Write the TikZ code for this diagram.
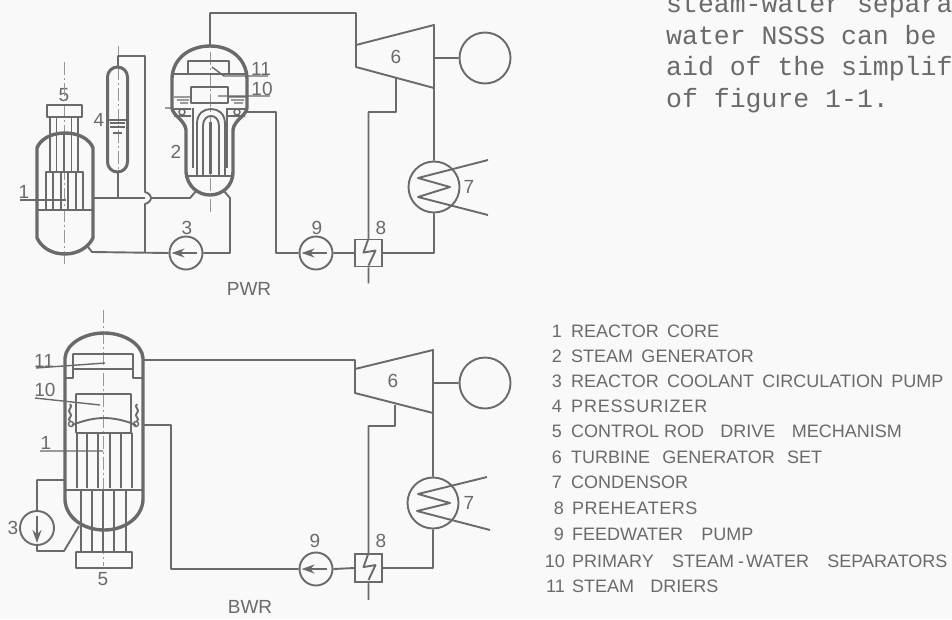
\documentclass[tikz,border=0pt]{standalone}
\usepackage{fontspec}
\setmainfont{Liberation Sans}
\newfontfamily\typed{Liberation Mono}
\usetikzlibrary{arrows.meta}
\definecolor{ink}{HTML}{6A6A6A}
\definecolor{paper}{HTML}{F9F9F9}
\newcommand{\gp}{\hspace{0.46em}}
\tikzset{pipe/.style={draw=ink,line width=1.9pt,line join=round},
wall/.style={draw=ink,line width=3.4pt,line join=round},
fine/.style={draw=ink,line width=1.4pt},
axis/.style={draw=ink!70,line width=1pt,dash pattern=on 13pt off 3pt on 2pt off 3pt},
pump/.style={circle,draw=ink,line width=1.9pt,minimum size=33pt,inner sep=0pt},
genr/.style={circle,draw=ink,line width=1.9pt,minimum size=51pt,inner sep=0pt},
prehtr/.style={rectangle,draw=ink,line width=1.9pt,minimum width=27pt,minimum height=27pt,inner sep=0pt},
flow/.style={pipe,-{Stealth[length=13pt,width=9pt]},shorten >=3pt,shorten <=6pt},
num/.style={text=ink,font=\fontsize{19}{19}\selectfont,inner sep=0pt},
lgnum/.style={text=ink,font=\fontsize{18}{18}\selectfont,inner sep=0pt,anchor=base east},
lgtxt/.style={text=ink,font=\fontsize{18}{18}\selectfont,inner sep=0pt,anchor=base west},
para/.style={text=ink,font=\typed\fontsize{26.5}{26.5}\selectfont,inner sep=0pt,anchor=base west}}

\begin{document}
\begin{tikzpicture}[x=1pt,y=-1pt]
\path[fill=paper,use as bounding box] (0,0) rectangle (952,619);
\clip (0,0) rectangle (952,619);

\node[para] (t1) at (666,12) {steam-water separa};
\node[para] (t2) at (666,44) {water NSSS can be};
\node[para] (t3) at (666,75) {aid of the simplif};
\node[para] (t4) at (666,107) {of figure 1-1.};

\node[num] (a1) at (24,192) {1};
\node[num] (a2) at (176,152) {2};
\node[num] (a3) at (187,228) {3};
\node[num] (a4) at (99,120) {4};
\node[num] (a5) at (64,95) {5};
\node[num] (a6) at (396,57) {6};
\node[num] (a7) at (469,187) {7};
\node[num] (a8) at (381,228) {8};
\node[num] (a9) at (317,228) {9};
\node[num] (a10) at (262,89) {10};
\node[num] (a11) at (261,69) {11};
\node[num] (apwr) at (249,289) {PWR};

\node[pump] (p3) at (186,253) {};
\node[pump] (p9) at (316,253) {};
\node[genr] (g1) at (485,58) {};
\node[genr] (c1) at (434,187) {};
\node[prehtr] (h1) at (368.5,253) {};
\coordinate (st1) at (210,46);
\coordinate (st1a) at (210,13);
\coordinate (tl1) at (356,45);
\coordinate (tl2) at (356,67);
\coordinate (tr1) at (434,25);
\coordinate (tr2) at (434,88);
\coordinate (ex1) at (396,78);
\coordinate (ex1a) at (396,112);
\coordinate (sg1) at (246,112);
\coordinate (fd1) at (276,253);
\coordinate (hot1) at (93,198);
\coordinate (hot2) at (190,198);
\coordinate (hot3) at (197,190);
\coordinate (cold1) at (88,247);
\coordinate (cold2) at (92,252);
\coordinate (cold3) at (230,253);
\coordinate (cold4) at (230,198);
\coordinate (cold5) at (224,191);
\coordinate (pz1) at (118,66);
\coordinate (pz2) at (118,56);
\coordinate (pz3) at (145,56);
\coordinate (pz4) at (118,172);
\coordinate (pz5) at (118,198);
\coordinate (pz6) at (145,192);
\coordinate (pz7) at (145,204);
\coordinate (pz8) at (145,253);

\draw[axis] (64,62) -- (64,266);
\draw[axis] (118,46) -- (118,198);
\draw[axis] (210,52) -- (210,213);
\draw[wall] (37,238) -- (37,148) .. controls (40,140) and (50,133) .. (65,133) .. controls (80,133) and (90,140) .. (93,148) -- (93,238) .. controls (88,248) and (77,254) .. (65,254) .. controls (52,254) and (42,248) .. (37,238) -- cycle;
\draw[pipe] (37,210) -- (93,210)
(46,210) -- (46,172) -- (83,172) -- (83,210)
(53,172) -- (53,210) (61,172) -- (61,210) (68,172) -- (68,210) (76,172) -- (76,210)
(50,172) -- (50,136) (56.5,172) -- (56.5,134) (64,172) -- (64,134) (71.5,172) -- (71.5,134) (78,172) -- (78,136)
(50,134) -- (50,117) (56.5,134) -- (56.5,117) (71.5,134) -- (71.5,117) (78,134) -- (78,117)
(47,105) rectangle (82,117);
\draw[fine] (20,200) -- (66,200);

\draw[wall,line width=3pt,rounded corners=10pt] (107.5,172) rectangle (127.5,67);
\draw[fine] (108,120) -- (127,120) (110,123) -- (125,123) (110,127) -- (125,127) (113,133) -- (122,133);

\draw[wall] (172,108) -- (172,78) .. controls (173,58) and (190,46) .. (210,46) .. controls (230,46) and (246,58) .. (247,78) -- (247,108) .. controls (246,116) and (234,120) .. (233,130) -- (233,172) .. controls (233,186) and (222,195) .. (210,195) .. controls (198,195) and (187,186) .. (186,172) -- (186,130) .. controls (185,120) and (173,116) .. (172,108) -- cycle;
\draw[pipe] (172,74) -- (247,74)
(188,74) -- (188,61) -- (229,61) -- (229,74)
(191,87) rectangle (228,103)
(186,176) -- (233,176)
(197,176) -- (197,124) .. controls (197,113) and (204,109) .. (211,109) .. controls (218,109) and (225,113) .. (225,124) -- (225,176)
(203,176) -- (203,126) .. controls (203,119) and (207,116) .. (211,116) .. controls (215,116) and (219,119) .. (219,126) -- (219,176)
(173,109) -- (191,109) (228,109) -- (246,109)
(174,116) -- (191,116) (228,116) -- (245,116);
\draw[wall,line width=2.6pt] (193,108) -- (193,168) (227,108) -- (227,168);
\draw[wall,line width=3pt] (210,122) -- (210,174);
\draw[fine] (174,97) -- (191,97) (228,97) -- (246,97)
(177,100) -- (189,100) (231,100) -- (244,100)
(180,103) -- (188,103) (234,103) -- (243,103)
(165,108) -- (172,108)
(212,67) -- (224,76) -- (268,76)
(218,96) -- (270,96);
\draw[fine] (182,112) circle (3pt) (237,112) circle (3pt);

\draw[pipe] (st1) -- (st1a) -- (356,13) -- (tl1)
(tl1) -- (tr1) -- (tr2) -- (tl2) -- cycle
(tr1 |- g1) -- (g1.west)
(tr2) -- (c1.north)
(c1.south) |- (h1.east)
(h1.west) -- (p9.east)
(p9.west) -- (fd1) -- (sg1 -| fd1) -- (sg1)
(ex1) -- (ex1a) -- (h1.north |- ex1a) -- (h1.north)
(h1.south) -- ++(0,16)
(hot1) -- (pz3 |- hot1)
(150,198) -- (hot2) -- (hot3)
(cold1) -- (cold2) -- (p3.west)
(p3.east) -- (cold3) -- (cold4) -- (cold5)
(pz1) -- (pz2) -- (pz3) -- (pz6) .. controls (149,193) and (151,196) .. (151,198) .. controls (151,200) and (149,203) .. (pz7) -- (pz8)
(pz4) -- (pz5)
(h1.north) -- ++(-5,14) -- ++(12,-2) -- ++(-7,15);
\draw[pipe] (488,160) -- (418,178) -- (450,187) -- (418,197) -- (488,215);
\draw[flow] (p3.east) -- (p3.west);
\draw[flow] (p9.east) -- (p9.west);

\node[num] (b1) at (46,443) {1};
\node[num] (b3) at (13,528) {3};
\node[num] (b5) at (103,579) {5};
\node[num] (b6) at (393,381) {6};
\node[num] (b7) at (469,503) {7};
\node[num] (b8) at (381,541) {8};
\node[num] (b9) at (315,541) {9};
\node[num] (b10) at (45,390) {10};
\node[num] (b11) at (44,361) {11};
\node[num] (bbwr) at (250,607) {BWR};

\node[pump,minimum size=34pt] (p3b) at (37,528) {};
\node[pump] (p9b) at (316,569) {};
\node[genr] (g2) at (485,383) {};
\node[genr] (c2) at (433,503) {};
\node[prehtr,minimum height=28pt] (h2) at (368.5,568) {};
\coordinate (st2) at (143,360);
\coordinate (tm1) at (355,360);
\coordinate (tm2) at (355,369);
\coordinate (tm3) at (355,393);
\coordinate (tm4) at (433,350);
\coordinate (tm5) at (433,413);
\coordinate (ex2) at (395,405);
\coordinate (ex2a) at (395,426);
\coordinate (sp1) at (143,425);
\coordinate (sp2) at (171,425);
\coordinate (rec1) at (64,480);
\coordinate (rec2) at (37,480);
\coordinate (rec3) at (37,551);
\coordinate (rec4) at (64,551);
\coordinate (rec5) at (79,526);

\draw[axis] (103,310) -- (103,566);
\draw[wall] (65,500) -- (65,358) .. controls (66,344) and (84,333) .. (104,333) .. controls (124,333) and (142,344) .. (143,358) -- (143,500) .. controls (142,518) and (124,530) .. (104,530) .. controls (84,530) and (66,518) .. (65,500) -- cycle;
\draw[pipe] (65,378) -- (73,378) -- (73,354) -- (133,354) -- (133,378) -- (143,378)
(73,369) -- (133,369)
(76,433) -- (76,394) -- (131,394) -- (131,433)
(72,425) .. controls (85,420) and (95,418) .. (104,418) .. controls (113,418) and (124,420) .. (136,425)
(76,433) -- (132,433)
(66,490) -- (142,490)
(77,433) -- (77,488) (87,433) -- (87,488) (98,433) -- (98,488) (110,433) -- (110,488) (121,433) -- (121,488) (132,433) -- (132,488)
(81,490) -- (81,552) (92,490) -- (92,552) (103,490) -- (103,552) (114,490) -- (114,552) (126,490) -- (126,552)
(76,552) rectangle (132,568);
\draw[fine] (36,368) -- (105,363) (35,398) -- (100,405) (40,451) -- (103,451);
\draw[pipe] (70,404) .. controls (74,407) and (66,410) .. (70,413) .. controls (74,416) and (66,419) .. (70,421)
(137,404) .. controls (133,407) and (141,410) .. (137,413) .. controls (133,416) and (141,419) .. (137,421);
\draw[fine] (71,424) circle (2.5pt) (136,424) circle (2.5pt);

\draw[pipe] (st2) -- (tm1) -- (tm2)
(tm2) -- (tm4) -- (tm5) -- (tm3) -- cycle
(tm4 |- g2) -- (g2.west)
(tm5) -- (c2.north)
(c2.south) |- (h2.east)
(h2.west) -- (p9b.east)
(p9b.west) -- (p9b.west -| sp2) -- (sp2) -- (sp1)
(ex2) -- (ex2a) -- (h2.north |- ex2a) -- (h2.north)
(h2.south) -- ++(0,17)
(rec1) -- (rec2) -- (p3b.north)
(p3b.south) -- (rec3) -- (rec4) -- (rec5)
(h2.north) -- ++(-5,14) -- ++(12,-2) -- ++(-7,15);
\draw[pipe] (487,477) -- (418,494) -- (450,503) -- (417,511) -- (490,530);
\draw[flow] (p9b.east) -- (p9b.west);
\draw[flow] (p3b.north) -- (p3b.south);

\node[lgnum] (n1) at (562,337) {1};
\node[lgtxt] (l1) at (571,337) {REACTOR\gp CORE};
\node[lgnum] (n2) at (562,362) {2};
\node[lgtxt] (l2) at (571,362) {STEAM\gp GENERATOR};
\node[lgnum] (n3) at (562,387) {3};
\node[lgtxt] (l3) at (571,387) {REACTOR\gp COOLANT\gp CIRCULATION\gp PUMP};
\node[lgnum] (n4) at (562,412) {4};
\node[lgtxt] (l4) at (571,412) {\addfontfeature{LetterSpace=4.5}PRESSURIZER};
\node[lgnum] (n5) at (562,437) {5};
\node[lgtxt] (l5) at (571,437) {CONTROL ROD\gp\hspace{8pt}DRIVE\gp\hspace{8pt}MECHANISM};
\node[lgnum] (n6) at (562,463) {6};
\node[lgtxt] (l6) at (571,463) {TURBINE\gp\hspace{4pt}GENERATOR\gp\hspace{4pt}SET};
\node[lgnum] (n7) at (562,488) {7};
\node[lgtxt] (l7) at (571,488) {CONDENSOR};
\node[lgnum] (n8) at (564,514) {8};
\node[lgtxt] (l8) at (572,514) {\addfontfeature{LetterSpace=2.8}PREHEATERS};
\node[lgnum] (n9) at (564,540) {9};
\node[lgtxt] (l9) at (572,540) {FEEDWATER\gp\hspace{10pt}PUMP};
\node[lgnum] (n10) at (565,567) {10};
\node[lgtxt] (l10) at (572,567) {PRIMARY\gp\hspace{10pt}STEAM\hspace{4pt}-\hspace{2pt}WATER\gp\hspace{10pt}SEPARATORS};
\node[lgnum] (n11) at (565,592) {11};
\node[lgtxt] (l11) at (572,592) {STEAM\gp\hspace{8pt}DRIERS};
\end{tikzpicture}
\end{document}
